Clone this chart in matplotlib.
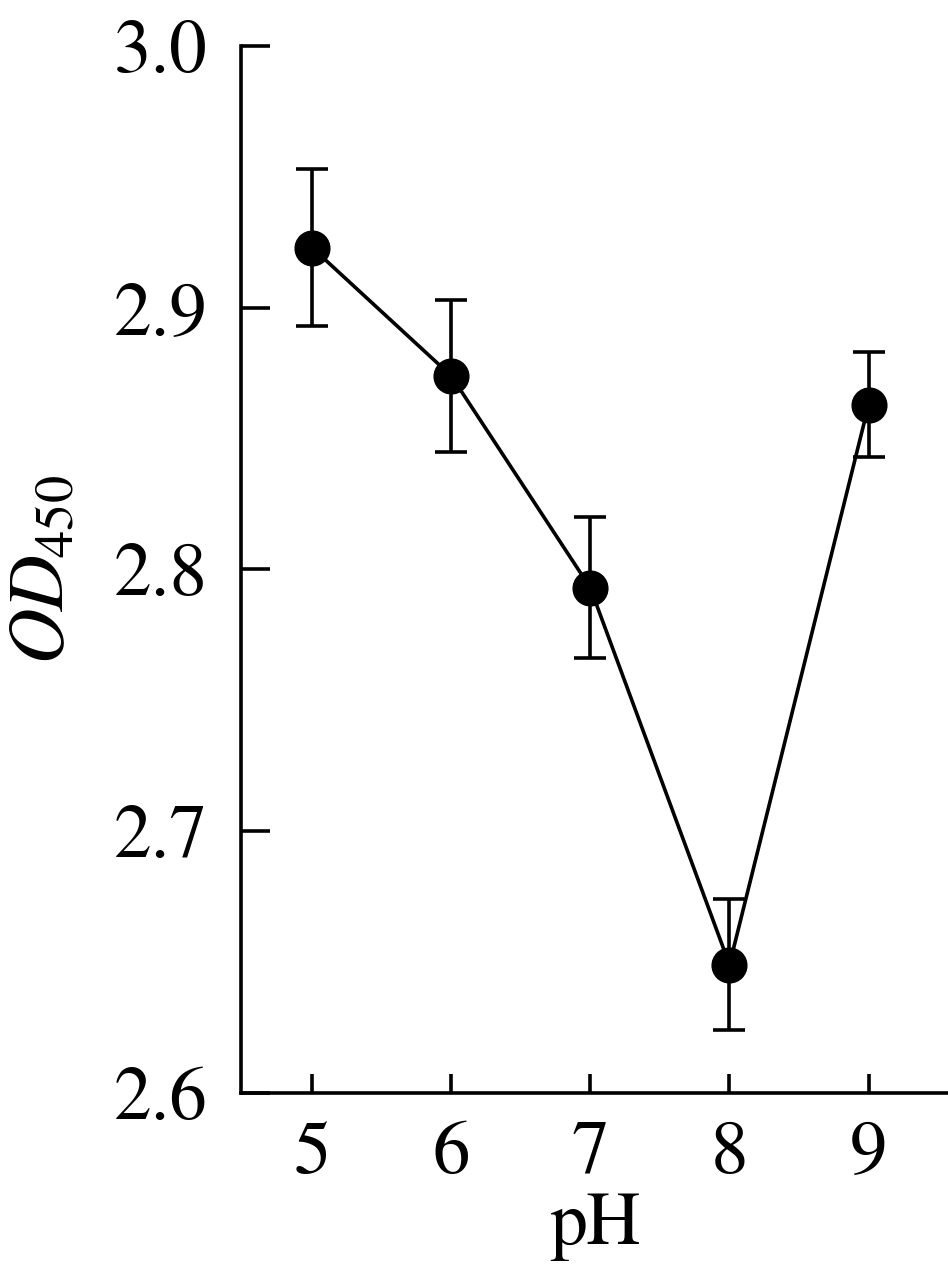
import matplotlib
matplotlib.use("Agg")
import matplotlib.pyplot as plt

ph = [5, 6, 7, 8, 9]
od450 = [2.923, 2.874, 2.793, 2.649, 2.863]
err = [0.030, 0.029, 0.027, 0.025, 0.020]
yticks = [2.6, 2.7, 2.8, 2.9, 3.0]
ytick_labels = ["2.6", "2.7", "2.8", "2.9", "3.0"]

plt.rcParams['font.family'] = ['FreeSerif', 'DejaVu Serif']
plt.rcParams['mathtext.fontset'] = 'custom'
plt.rcParams['mathtext.rm'] = 'FreeSerif'
plt.rcParams['mathtext.it'] = 'FreeSerif:italic'

fig = plt.figure(figsize=(9.48, 12.8), dpi=100)
ax = fig.add_axes([0.2542, 0.1461, 0.7458, 0.8180])

ax.errorbar(ph, od450, yerr=err, fmt='o-', color='black', markersize=25,
            linewidth=2.6, elinewidth=2.6, capsize=11.5, capthick=2.6)

ax.set_xlim(4.49, 9.57)
ax.set_ylim(2.6, 3.0)
ax.set_xticks(ph)
ax.set_xticklabels([str(p) for p in ph])
ax.set_yticks(yticks)
ax.set_yticklabels(ytick_labels)

for s in ['top', 'right']:
    ax.spines[s].set_visible(False)
for s in ['left', 'bottom']:
    ax.spines[s].set_linewidth(2.6)

ax.tick_params(axis='y', direction='in', length=21, width=2.6, labelsize=54, pad=24)
ax.tick_params(axis='x', direction='in', length=14, width=2.6, labelsize=54, pad=20)

ax.set_xlabel('pH', fontsize=54, labelpad=2)
ax.set_ylabel(r'$\mathit{OD}_{\mathrm{450}}$', fontsize=56, labelpad=24)

fig.savefig('out.png', dpi=100)
